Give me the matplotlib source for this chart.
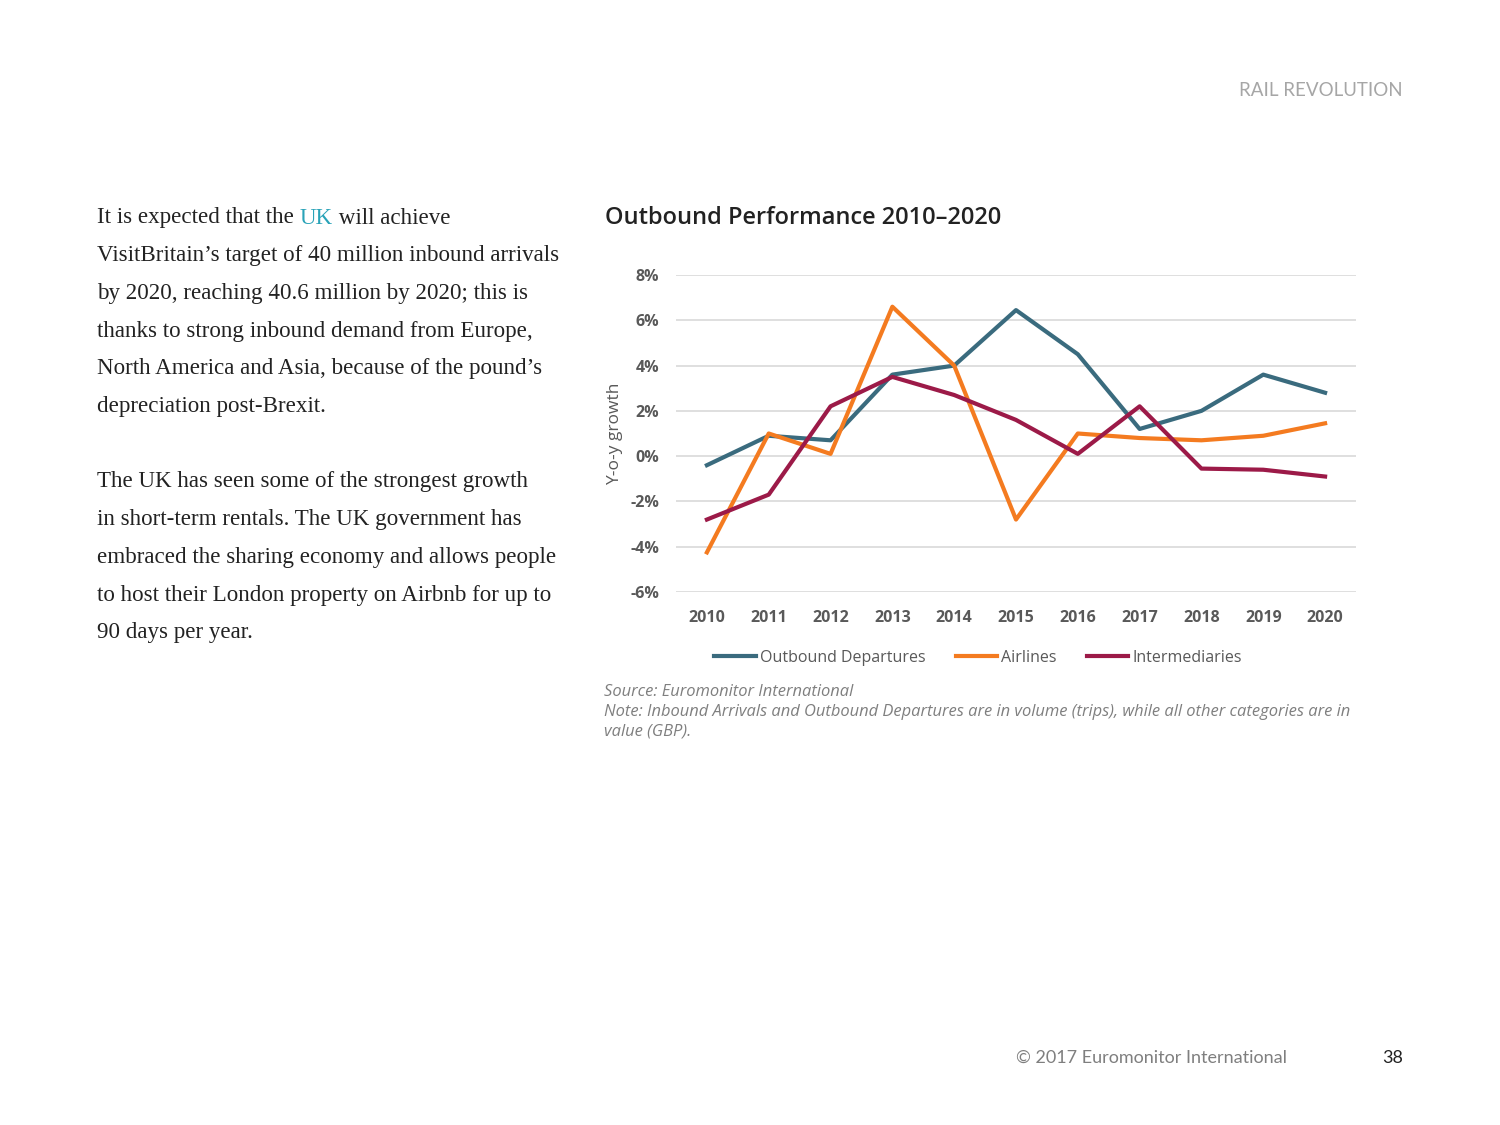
import matplotlib.pyplot as plt
import numpy as np

# --- Données ---
years = ["2010", "2011", "2012", "2013", "2014", "2015", "2016", "2017", "2018", "2019", "2020"]
outbound = [-0.4, 0.9, 0.7, 3.6, 4.0, 6.45, 4.5, 1.2, 2.0, 3.6, 2.8]
airlines = [-4.25, 1.0, 0.1, 6.6, 4.0, -2.8, 1.0, 0.8, 0.7, 0.9, 1.45]
intermediaries = [-2.8, -1.7, 2.2, 3.5, 2.7, 1.6, 0.1, 2.2, -0.55, -0.6, -0.9]
yticks = [-6, -4, -2, 0, 2, 4, 6, 8]

c_blue = "#3a6b7e"
c_orange = "#f47b20"
c_red = "#9c1a48"
c_tick = "#595959"

fig = plt.figure(figsize=(15, 11.25), dpi=100)

# --- En-tête / pied de page ---
fig.text(1403/1500, 1 - 91/1125, "RAIL REVOLUTION", ha="right", va="center",
         fontsize=13.5, color="#a6a6a6", family="Lato")
fig.text(1287/1500, 1 - 1058/1125, "© 2017 Euromonitor International", ha="right", va="center",
         fontsize=13, color="#7f7f7f", family="Lato")
fig.text(1403/1500, 1 - 1058/1125, "38", ha="right", va="center",
         fontsize=13, color="#222222", family="Lato")

# --- Texte de gauche ---
lignes = [
    "It is expected that the UK will achieve",
    "VisitBritain\u2019s target of 40 million inbound arrivals",
    "by 2020, reaching 40.6 million by 2020; this is",
    "thanks to strong inbound demand from Europe,",
    "North America and Asia, because of the pound\u2019s",
    "depreciation post-Brexit.",
    "",
    "The UK has seen some of the strongest growth",
    "in short-term rentals. The UK government has",
    "embraced the sharing economy and allows people",
    "to host their London property on Airbnb for up to",
    "90 days per year.",
]
serif = "Liberation Serif"
fs_txt = 16.6
y0 = 218
for i, l in enumerate(lignes):
    y = 1 - (y0 + i * 37.7) / 1125
    if i == 0:
        # le "UK" est en couleur
        t1 = fig.text(97/1500, y, "It is expected that the ", ha="left", va="center",
                      fontsize=fs_txt, color="#222222", family=serif)
        fig.canvas.draw()
        x_uk = t1.get_window_extent().x1 / 1500
        t2 = fig.text(x_uk, y, "UK", ha="left", va="center", fontsize=fs_txt,
                      color="#2aa3b8", family=serif)
        fig.canvas.draw()
        fig.text(t2.get_window_extent().x1 / 1500, y, " will achieve", ha="left", va="center",
                 fontsize=fs_txt, color="#222222", family=serif)
    else:
        fig.text(97/1500, y, l, ha="left", va="center", fontsize=fs_txt,
                 color="#222222", family=serif)

# --- Graphique ---
fig.text(605/1500, 1 - 218/1125, "Outbound Performance 2010\u20132020", ha="left", va="center",
         fontsize=17, color="#222222", family="Open Sans", fontweight="semibold")

ax = fig.add_axes([676/1500, 1 - 592/1125, 680/1500, 317/1125])
x = np.arange(len(years))
ax.plot(x, outbound, color=c_blue, lw=3, label="Outbound Departures")
ax.plot(x, airlines, color=c_orange, lw=3, label="Airlines")
ax.plot(x, intermediaries, color=c_red, lw=3, label="Intermediaries")

ax.set_xlim(-0.5, len(years) - 0.5)
ax.set_ylim(-6, 8)
ax.set_yticks(yticks)
ax.set_yticklabels([f"{v}%" for v in yticks])
ax.set_xticks(x)
ax.set_xticklabels(years)
for s in ax.spines.values():
    s.set_visible(False)
ax.grid(axis="y", color="#d9d9d9", lw=1.2)
ax.set_axisbelow(True)
ax.tick_params(length=0, labelsize=11.5, labelcolor=c_tick, pad=12)
for lab in ax.get_xticklabels() + ax.get_yticklabels():
    lab.set_fontweight("bold")
    lab.set_family("Open Sans")
ax.tick_params(axis="x", pad=13)
ax.set_ylabel("Y-o-y growth", fontsize=12.5, color=c_tick, family="Open Sans", labelpad=5)

leg = fig.legend(loc="center", bbox_to_anchor=(978/1500, 1 - 658/1125), ncol=3, frameon=False,
                 handlelength=2.6, handletextpad=0.25, columnspacing=1.9,
                 prop={"family": "Open Sans", "size": 11.5})
for t in leg.get_texts():
    t.set_color(c_tick)

notes = [
    "Source: Euromonitor International",
    "Note: Inbound Arrivals and Outbound Departures are in volume (trips), while all other categories are in",
    "value (GBP).",
]
for i, n in enumerate(notes):
    fig.text(604/1500, 1 - (692 + i * 20) / 1125, n, ha="left", va="center", fontsize=11.9,
             color="#7f7f7f", style="italic", family="Open Sans")

plt.savefig("out.png", dpi=100)
